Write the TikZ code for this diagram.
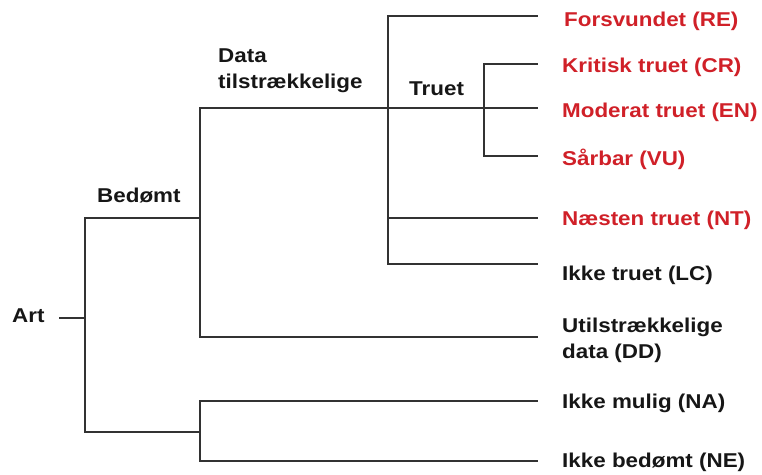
\documentclass[tikz,border=0pt]{standalone}
\usepackage{fontspec}
\setmainfont{Liberation Sans}
\usepackage{graphicx}
\definecolor{redc}{RGB}{208,32,40}
\definecolor{txt}{RGB}{22,22,22}
\definecolor{ln}{RGB}{50,50,50}
\newcommand{\sx}[1]{\scalebox{1.12}[1]{#1}}
\tikzset{
  lbl/.style={inner sep=0pt, anchor=base west, text=txt,
    font=\fontsize{20}{26.5}\selectfont\bfseries},
  redlbl/.style={lbl, text=redc},
  branch/.style={draw=ln, line width=2pt, line cap=rect, line join=miter}
}
\begin{document}
\begin{tikzpicture}[x=1pt,y=-1pt]
\useasboundingbox (0,0) rectangle (762,474);
% labels
\node[lbl] (art) at (12,322) {\sx{Art}};
\node[lbl] (bed) at (97,202) {\sx{Bedømt}};
\node[lbl] (data) at (218,62) {\sx{\begin{tabular}[t]{@{}l@{}}Data\\tilstrækkelige\end{tabular}}};
\node[lbl] (tru) at (409,95) {\sx{Truet}};
\node[redlbl] (re) at (564,26) {\sx{Forsvundet (RE)}};
\node[redlbl] (cr) at (562,72) {\sx{Kritisk truet (CR)}};
\node[redlbl] (en) at (562,117) {\sx{Moderat truet (EN)}};
\node[redlbl] (vu) at (562,165) {\sx{Sårbar (VU)}};
\node[redlbl] (nt) at (562,225) {\sx{Næsten truet (NT)}};
\node[lbl] (lc) at (562,280) {\sx{Ikke truet (LC)}};
\node[lbl] (dd) at (562,332) {\sx{\begin{tabular}[t]{@{}l@{}}Utilstrækkelige\\data (DD)\end{tabular}}};
\node[lbl] (na) at (562,408) {\sx{Ikke mulig (NA)}};
\node[lbl] (ne) at (562,467) {\sx{Ikke bedømt (NE)}};
% junctions and line ends
\coordinate (a0) at (60,318);
\coordinate (j0) at (85,318);
\coordinate (j1) at (200,218);
\coordinate (j2) at (388,108);
\coordinate (j3) at (484,108);
\coordinate (j4) at (200,432);
\coordinate (eRE) at (537,16);
\coordinate (eCR) at (537,64);
\coordinate (eEN) at (537,108);
\coordinate (eVU) at (537,156);
\coordinate (eNT) at (537,218);
\coordinate (eLC) at (537,264);
\coordinate (eDD) at (537,337);
\coordinate (eNA) at (537,401);
\coordinate (eNE) at (537,461);
% connectors
\draw[branch] (a0) -- (j0);
\draw[branch] (j1) -| (j0) |- (j4);
\draw[branch] (j2) -| (j1) |- (eDD);
\draw[branch] (j2) -- (j3) -- (eEN);
\draw[branch] (eRE) -| (j2) |- (eLC);
\draw[branch] (j2) |- (eNT);
\draw[branch] (eCR) -| (j3) |- (eVU);
\draw[branch] (eNA) -| (j4) |- (eNE);
\end{tikzpicture}
\end{document}
